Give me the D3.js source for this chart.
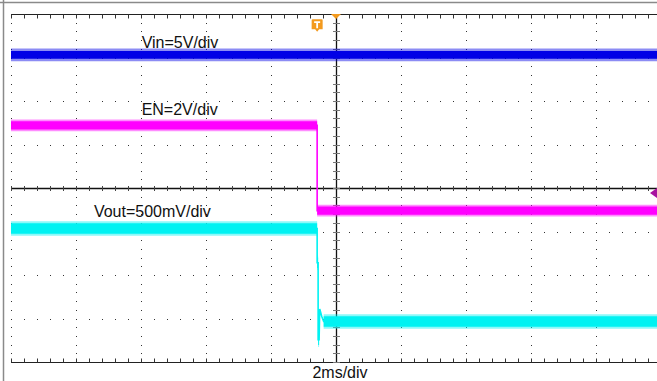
<!DOCTYPE html>
<html><head><meta charset="utf-8">
<script src="https://cdn.jsdelivr.net/npm/d3@7"></script>
<style>html,body{margin:0;padding:0;background:#fff;overflow:hidden}svg{display:block}</style>
</head><body>
<svg id="c" width="657" height="381"></svg>
<script>
// ---- data (time in ms, value in screen divisions from centre) ----
const timeDomain = [-10, 10];          // 2 ms/div, 10 divisions
const divDomain = [-4, 4];             // 8 vertical divisions
const edgeTime = -0.58;

const vinTimes = [-10, 10];
const vinValues = [3.06, 3.06];
const vinCore = 0.18, vinFuzz = 0.29;

const enTimes = [-10, -0.58, -0.58, 10];
const enValues = [1.44, 1.44, -0.52, -0.52];
const enCore = 0.19, enFuzz = 0.27;

const voutTimes = [-10, -0.58, -0.58, -0.55, -0.55, -0.52, -0.50, -0.44, -0.38, 10];
const voutValues = [-0.93, -0.93, -1.72, -1.72, -3.49, -3.49, -2.78, -2.95, -3.07, -3.07];
const voutCore = 0.24, voutFuzz = 0.33;

const labels = ["Vin=5V/div", "EN=2V/div", "Vout=500mV/div"];
const labelTimes = [-5.98, -5.98, -7.45];
const labelValues = [3.22, 1.68, -0.66];
const timebaseLabel = "2ms/div";
const triggerLevel = -0.115;

// ---- scales ----
const svg = d3.select("#c");
const x = d3.scaleLinear().domain(timeDomain).range([11, 661]);
const y = d3.scaleLinear().domain(divDomain).range([362, 14]);

// outer frame
svg.append("line").attr("x1", 3.5).attr("x2", 3.5).attr("y1", 0).attr("y2", 381).attr("stroke", "#8a8a8a").attr("stroke-width", 1.5);
svg.append("line").attr("x1", 0).attr("x2", 657).attr("y1", 2.5).attr("y2", 2.5).attr("stroke", "#8a8a8a").attr("stroke-width", 1.5);

const g = svg.append("g");
const majorX = d3.range(-10, 10.01, 2);
const majorY = d3.range(-4, 4.01, 1);
const minorX = d3.range(-10, 10.01, 0.4);
const minorY = d3.range(-4, 4.01, 0.2);

// dotted grid
majorX.filter(t => t !== 0).forEach(t => {
  minorY.forEach(v => g.append("rect").attr("x", Math.round(x(t))).attr("y", Math.round(y(v))).attr("width", 1).attr("height", 1).attr("fill", "#333"));
});
majorY.filter(v => v !== 0 && Math.abs(v) !== 4).forEach(v => {
  minorX.forEach(t => g.append("rect").attr("x", Math.round(x(t))).attr("y", Math.round(y(v))).attr("width", 1).attr("height", 1).attr("fill", "#333"));
});

// solid top / bottom borders with ticks
[[4, 1], [-4, -1]].forEach(([v, dir]) => {
  g.append("line").attr("x1", x(-10)).attr("x2", 657).attr("y1", Math.round(y(v)) + 0.5).attr("y2", Math.round(y(v)) + 0.5).attr("stroke", "#222").attr("stroke-width", 1);
  minorX.forEach(t => g.append("line").attr("x1", Math.round(x(t)) + 0.5).attr("x2", Math.round(x(t)) + 0.5)
    .attr("y1", Math.round(y(v)) + 0.5).attr("y2", Math.round(y(v)) + 0.5 + 4 * dir).attr("stroke", "#333").attr("stroke-width", 1));
});

// centre axes with ticks
g.append("line").attr("x1", x(-10)).attr("x2", 657).attr("y1", Math.round(y(0)) + 0.5).attr("y2", Math.round(y(0)) + 0.5).attr("stroke", "#111").attr("stroke-width", 1.3);
minorX.forEach(t => g.append("line").attr("x1", Math.round(x(t)) + 0.5).attr("x2", Math.round(x(t)) + 0.5)
  .attr("y1", Math.round(y(0)) - 2).attr("y2", Math.round(y(0)) + 3).attr("stroke", "#444").attr("stroke-width", 1));
g.append("line").attr("x1", Math.round(x(0)) + 0.5).attr("x2", Math.round(x(0)) + 0.5).attr("y1", y(4)).attr("y2", y(-4)).attr("stroke", "#111").attr("stroke-width", 1.3);
minorY.forEach(v => g.append("line").attr("x1", Math.round(x(0)) - 3).attr("x2", Math.round(x(0)) + 4)
  .attr("y1", Math.round(y(v)) + 0.5).attr("y2", Math.round(y(v)) + 0.5).attr("stroke", "#777").attr("stroke-width", 1));

// ---- traces ----
function drawTrace(times, values, core, fuzz, color) {
  const pts = times.map((t, i) => [t, values[i]]);
  const flat = [];
  for (let i = 0; i < pts.length - 1; i++) {
    if (pts[i][1] === pts[i + 1][1] && pts[i][0] !== pts[i + 1][0]) flat.push([pts[i], pts[i + 1]]);
  }
  flat.forEach(seg => {
    const areaF = d3.area().x(d => x(d[0])).y0(d => y(d[1] - fuzz / 2)).y1(d => y(d[1] + fuzz / 2));
    g.append("path").attr("d", areaF(seg)).attr("fill", color).attr("opacity", 0.45);
    const areaC = d3.area().x(d => x(d[0])).y0(d => y(d[1] - core / 2)).y1(d => y(d[1] + core / 2));
    g.append("path").attr("d", areaC(seg)).attr("fill", color);
  });
  const line = d3.line().x(d => x(d[0])).y(d => y(d[1]));
  g.append("path").attr("d", line(pts)).attr("fill", "none").attr("stroke", color).attr("stroke-width", 1.6);
}
drawTrace(vinTimes, vinValues, vinCore, vinFuzz, "#0000e6");
drawTrace(enTimes, enValues, enCore, enFuzz, "#ff00ff");
drawTrace(voutTimes, voutValues, voutCore, voutFuzz, "#00f2f2");

// ---- markers ----
const tx = x(0), ty = y(4);
svg.append("path").attr("d", `M${tx - 5},${ty} L${tx + 5},${ty} L${tx},${ty + 5} Z`).attr("fill", "#f39a1e");
const bx = x(edgeTime);
const badge = svg.append("g").attr("transform", `translate(${bx},${y(3.72)})`);
badge.append("path").attr("d", "M-5.5,-6 Q-5.5,-7 -4.5,-7 L4.5,-7 Q5.5,-7 5.5,-6 L5.5,3 L2,3 L0,5.5 L-2,3 L-5.5,3 Z").attr("fill", "#f39a1e");
badge.append("path").attr("d", "M-3,-5 L3,-5 L3,-3.3 L0.9,-3.3 L0.9,2 L-0.9,2 L-0.9,-3.3 L-3,-3.3 Z").attr("fill", "#fff");
const ly = y(triggerLevel);
svg.append("path").attr("d", `M650,${ly} L657,${ly - 5} L657,${ly + 5} Z`).attr("fill", "#a8129f");

// ---- labels ----
const font = "'Liberation Sans', Arial, sans-serif";
labels.forEach((s, i) => {
  svg.append("text").attr("x", x(labelTimes[i])).attr("y", y(labelValues[i])).text(s)
    .attr("font-family", font).attr("font-size", 16).attr("fill", "#111");
});
svg.append("text").attr("x", 340).attr("y", 378).attr("text-anchor", "middle").text(timebaseLabel)
  .attr("font-family", font).attr("font-size", 16).attr("fill", "#111");
</script>
</body></html>
